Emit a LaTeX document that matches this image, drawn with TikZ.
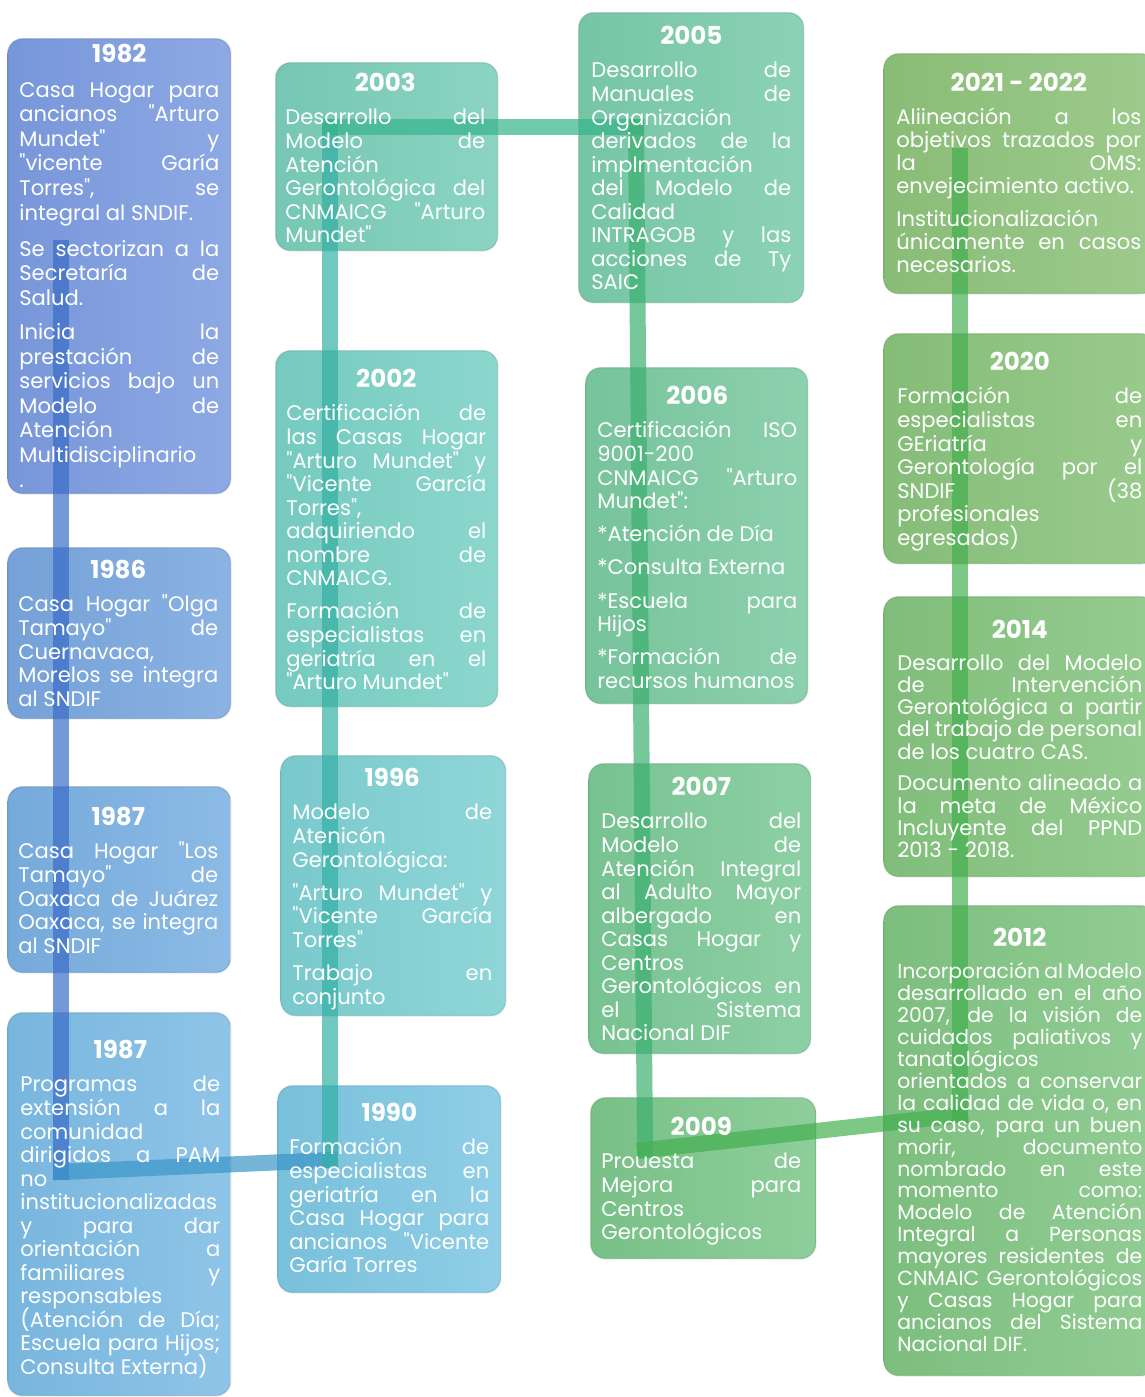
\documentclass[tikz,border=0pt]{standalone}
\usepackage{fontspec}
\setmainfont{Poppins}[Ligatures=TeXOff]
\usetikzlibrary{positioning}

\pgfdeclarelayer{fondo}
\pgfdeclarelayer{linea}
\pgfsetlayers{fondo,linea,main}

% colores de las cajas
\definecolor{c1982}{HTML}{7B9BE0}
\definecolor{c1986}{HTML}{78A6DE}
\definecolor{c1987a}{HTML}{79AFE1}
\definecolor{c1987b}{HTML}{7CBBE4}
\definecolor{c1990}{HTML}{7DC6E2}
\definecolor{c1996}{HTML}{7DCFD2}
\definecolor{c2002}{HTML}{79D0C5}
\definecolor{c2003}{HTML}{79CDB8}
\definecolor{c2005}{HTML}{79CBAA}
\definecolor{c2006}{HTML}{7AC9A0}
\definecolor{c2007}{HTML}{7BC896}
\definecolor{c2009}{HTML}{7CC68B}
\definecolor{c2012}{HTML}{80C482}
\definecolor{c2014}{HTML}{84C37E}
\definecolor{c2020}{HTML}{89C27B}
\definecolor{c2021}{HTML}{8DC27A}
% colores del hilo
\definecolor{hAzul}{HTML}{3A6CC8}
\definecolor{hCian}{HTML}{3A96C8}
\definecolor{hTeal}{HTML}{33B0A4}
\definecolor{hVerdeA}{HTML}{36B48C}
\definecolor{hVerde}{HTML}{3CB070}
\definecolor{hVerdeB}{HTML}{44B050}

\tikzset{
  caja/.style={rectangle, rounded corners=0.3cm, anchor=north west, inner sep=0pt,
    left color=#1!97!black, right color=#1!86!white,
    draw=#1!70!black, draw opacity=0.3, line width=0.8pt},
  texto/.style={anchor=north west, inner sep=0pt, text width=4cm, align=justify, text=white},
  textoder/.style={texto, text width=4.9cm},
  hilo/.style={line width=0.32cm, opacity=0.7, line cap=rect},
}

\newcommand{\anio}[2][13.4]{{\fontsize{14}{16}\selectfont\bfseries\makebox[\linewidth]{#2}\par}%
  \fontsize{12}{#1}\selectfont\hyphenpenalty=10000 \exhyphenpenalty=10000
  \tolerance=10000 \hbadness=10000 \lineskiplimit=-20pt \vspace{5.8pt}}
\newcommand{\parrafo}{\par\vspace{5.5pt}}
\newcommand{\corte}{\linebreak}

\begin{document}
\begin{tikzpicture}[x=0.02cm, y=-0.02cm]
\useasboundingbox (0,0) rectangle (1145,1397);

% cajas
\begin{pgfonlayer}{fondo}
\node[caja=c1982, minimum width=4.46cm, minimum height=9.1cm] (b1982) at (7,38) {};
\node[caja=c1986, minimum width=4.46cm, minimum height=3.42cm] (b1986) at (7,547) {};
\node[caja=c1987a, minimum width=4.46cm, minimum height=3.72cm] (b1987a) at (7,786) {};
\node[caja=c1987b, minimum width=4.46cm, minimum height=7.66cm] (b1987b) at (7,1012) {};
\node[caja=c1990, minimum width=4.46cm, minimum height=4.14cm] (b1990) at (277,1085) {};
\node[caja=c1996, minimum width=4.5cm, minimum height=5.2cm] (b1996) at (280,755) {};
\node[caja=c2002, minimum width=4.44cm, minimum height=7.12cm] (b2002) at (275,350) {};
\node[caja=c2003, minimum width=4.44cm, minimum height=3.76cm] (b2003) at (275,62) {};
\node[caja=c2005, minimum width=4.5cm, minimum height=5.8cm] (b2005) at (578,12) {};
\node[caja=c2006, minimum width=4.44cm, minimum height=6.72cm] (b2006) at (585,367) {};
\node[caja=c2007, minimum width=4.44cm, minimum height=5.8cm] (b2007) at (588,763) {};
\node[caja=c2009, minimum width=4.5cm, minimum height=3.22cm] (b2009) at (590,1097) {};
\node[caja=c2021, minimum width=5.44cm, minimum height=4.8cm] (b2021) at (883,53) {};
\node[caja=c2020, minimum width=5.44cm, minimum height=4.6cm] (b2020) at (883,333) {};
\node[caja=c2014, minimum width=5.44cm, minimum height=5.6cm] (b2014) at (883,596) {};
\node[caja=c2012, minimum width=5.44cm, minimum height=9.4cm] (b2012) at (883,905) {};
\end{pgfonlayer}

% hilo del tiempo
\coordinate (h1) at (61,248);
\coordinate (h2) at (61,1172);
\coordinate (h3) at (330,1160);
\coordinate (h4) at (330,127);
\coordinate (h5) at (636,127);
\coordinate (h6) at (645,1150);
\coordinate (h7) at (960,1115);
\coordinate (h8) at (960,156);
\begin{pgfonlayer}{linea}
\draw[hilo, hAzul] (h1) -- (h2);
\draw[hilo, hCian] (h2) -- (h3);
\draw[hilo, hTeal] (h3) -- (h4);
\draw[hilo, hVerdeA] (h4) -- (h5);
\draw[hilo, hVerde] (h5) -- (h6);
\draw[hilo, hVerdeB] (h6) -- (h7);
\draw[hilo, hVerdeB] (h7) -- (h8);
\end{pgfonlayer}

% textos
\node[texto, below right=0.11cm and 0.24cm of b1982.north west] (t1982) {\anio[14]{1982}
Casa Hogar para\corte ancianos "Arturo\corte Mundet" y\corte "vicente Garía\corte Torres", se\corte integral al SNDIF.\parrafo\vspace{1pt}
Se sectorizan a la\corte Secretaría de\corte Salud.\parrafo
Inicia la\corte prestación de\corte servicios bajo un\corte Modelo de\corte Atención\corte Multidisciplinario\corte .\par};

\node[texto, below right=0.25cm and 0.22cm of b1986.north west] (t1986) {\anio{1986}
Casa Hogar "Olga\corte Tamayo" de\corte Cuernavaca,\corte Morelos se integra\corte al SNDIF\par};

\node[texto, below right=0.41cm and 0.22cm of b1987a.north west] (t1987a) {\anio{1987}
Casa Hogar "Los\corte Tamayo" de\corte Oaxaca de Juárez\corte Oaxaca, se integra\corte al SNDIF\par};

\node[texto, below right=0.55cm and 0.26cm of b1987b.north west] (t1987b) {\anio{1987}
Programas de\corte extensión a la\corte comunidad\corte dirigidos a PAM\corte no\corte institucionalizadas\corte y para dar\corte orientación a\corte familiares y\corte responsables\corte (Atención de Día;\corte Escuela para Hijos;\corte Consulta Externa)\par};

\node[texto, below right=0.35cm and 0.24cm of b1990.north west] (t1990) {\anio{1990}
Formación de\corte especialistas en\corte geriatría en la\corte Casa Hogar para\corte ancianos "Vicente\corte Garía Torres\par};

\node[texto, below right=0.25cm and 0.24cm of b1996.north west] (t1996) {\anio{1996}
Modelo de\corte Atenicón\corte Gerontológica:\parrafo
"Arturo Mundet" y\corte "Vicente García\corte Torres"\parrafo
Trabajo en\corte conjunto\par};

\node[texto, below right=0.37cm and 0.22cm of b2002.north west] (t2002) {\anio{2002}
Certificación de\corte las Casas Hogar\corte "Arturo Mundet" y\corte "Vicente García\corte Torres",\corte adquiriendo el\corte nombre de\corte CNMAICG.\parrafo
Formación de\corte especialistas en\corte geriatría en el\corte "Arturo Mundet"\par};

\node[texto, below right=0.21cm and 0.2cm of b2003.north west] (t2003) {\anio{2003}
Desarrollo del\corte Modelo de\corte Atención\corte Gerontológica del\corte CNMAICG "Arturo\corte Mundet"\par};

\node[texto, below right=0.27cm and 0.26cm of b2005.north west] (t2005) {\anio{2005}
Desarrollo de\corte Manuales de\corte Organización\corte derivados de la\corte implmentación\corte del Modelo de\corte Calidad\corte INTRAGOB y las\corte acciones de Ty\corte SAIC\par};

\node[texto, below right=0.37cm and 0.24cm of b2006.north west] (t2006) {\anio{2006}
Certificación ISO\corte 9001-200\corte CNMAICG "Arturo\corte Mundet":\parrafo
*Atención de Día\parrafo
*Consulta Externa\parrafo
*Escuela para\corte Hijos\parrafo
*Formación de\corte recursos humanos\par};

\node[texto, below right=0.27cm and 0.26cm of b2007.north west] (t2007) {\anio{2007}
Desarrollo del\corte Modelo de\corte Atención Integral\corte al Adulto Mayor\corte albergado en\corte Casas Hogar y\corte Centros\corte Gerontológicos en\corte el Sistema\corte Nacional DIF\par};

\node[texto, below right=0.39cm and 0.22cm of b2009.north west] (t2009) {\anio{2009}
Prouesta de\corte Mejora para\corte Centros\corte Gerontológicos\par};

\node[textoder, below right=0.39cm and 0.26cm of b2021.north west] (t2021) {\anio[13.1]{2021 - 2022}
Aliineación a los\corte objetivos trazados por\corte la OMS:\corte envejecimiento activo.\parrafo
Institucionalización\corte únicamente en casos\corte necesarios.\par};

\node[textoder, below right=0.37cm and 0.28cm of b2020.north west] (t2020) {\anio[13.4]{2020}
Formación de\corte especialistas en\corte GEriatría y\corte Gerontología por el\corte SNDIF (38\corte profesionales\corte egresados)\par};

\node[textoder, below right=0.47cm and 0.28cm of b2014.north west] (t2014) {\anio[12.6]{2014}
Desarrollo del Modelo\corte de Intervención\corte Gerontológica a partir\corte del trabajo de personal\corte de los cuatro CAS.\parrafo
Documento alineado a\corte la meta de México\corte Incluyente del PPND\corte 2013 - 2018.\par};

\node[textoder, below right=0.45cm and 0.28cm of b2012.north west] (t2012) {\anio[12.5]{2012}
\fontsize{11.6}{12.5}\selectfont
Incorporación al Modelo\corte desarrollado en el año\corte 2007, de la visión de\corte cuidados paliativos y\corte tanatológicos\corte orientados a conservar\corte la calidad de vida o, en\corte su caso, para un buen\corte morir, documento\corte nombrado en este\corte momento como:\corte Modelo de Atención\corte Integral a Personas\corte mayores residentes de\corte CNMAIC Gerontológicos\corte y Casas Hogar para\corte ancianos del Sistema\corte Nacional DIF.\par};

\end{tikzpicture}
\end{document}
